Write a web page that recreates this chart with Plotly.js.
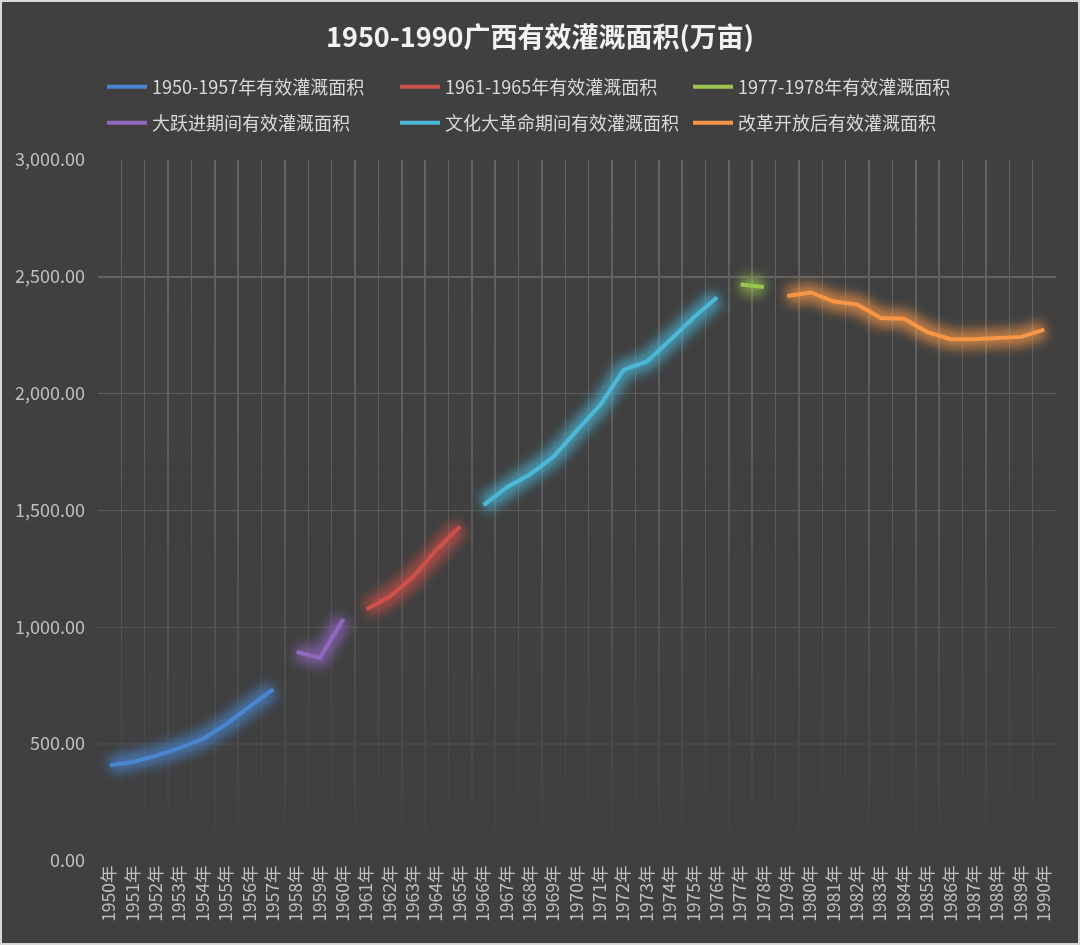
<!DOCTYPE html>
<html>
<head>
<meta charset="utf-8">
<script src="https://cdn.plot.ly/plotly-3.0.1.min.js"></script>
<style>
  html, body { margin: 0; padding: 0; background: #d9d9d9; }
  #chart { position: absolute; left: 2px; top: 2px; width: 1076px; height: 941px; }
</style>
</head>
<body>
<div id="chart"></div>
<script>
const years = [
  '1950年', '1951年', '1952年', '1953年', '1954年', '1955年', '1956年', '1957年',
  '1958年', '1959年', '1960年', '1961年', '1962年', '1963年', '1964年', '1965年',
  '1966年', '1967年', '1968年', '1969年', '1970年', '1971年', '1972年', '1973年',
  '1974年', '1975年', '1976年', '1977年', '1978年', '1979年', '1980年', '1981年',
  '1982年', '1983年', '1984年', '1985年', '1986年', '1987年', '1988年', '1989年',
  '1990年'
];

// 万亩
const early = [410, 424, 451, 484, 523, 586, 662, 735];            // 1950-1957
const adjust = [1077, 1133, 1217, 1334, 1431];                      // 1961-1965
const transition = [2467, 2456];                                    // 1977-1978
const greatLeap = [895, 869, 1036];                                 // 1958-1960
const cultRev = [1523, 1600, 1655, 1731, 1843, 1952, 2102, 2138, 2231, 2327, 2413]; // 1966-1976
const reform = [2418, 2433, 2394, 2381, 2324, 2321, 2263, 2233, 2233, 2236, 2243, 2274]; // 1979-1990

function span(from, to) {
  return years.slice(years.indexOf(from), years.indexOf(to) + 1);
}

const series = [
  {name: '1950-1957年有效灌溉面积', x: span('1950年', '1957年'), y: early, color: '#4a86d0', legend: 'legend'},
  {name: '1961-1965年有效灌溉面积', x: span('1961年', '1965年'), y: adjust, color: '#d0504a', legend: 'legend'},
  {name: '1977-1978年有效灌溉面积', x: span('1977年', '1978年'), y: transition, color: '#9bc550', legend: 'legend'},
  {name: '大跃进期间有效灌溉面积', x: span('1958年', '1960年'), y: greatLeap, color: '#9068c0', legend: 'legend2'},
  {name: '文化大革命期间有效灌溉面积', x: span('1966年', '1976年'), y: cultRev, color: '#4bb8d8', legend: 'legend2'},
  {name: '改革开放后有效灌溉面积', x: span('1979年', '1990年'), y: reform, color: '#f79646', legend: 'legend2'}
];

// soft halo under each line, blurred after drawing
const glow = series.map(s => ({
  x: s.x, y: s.y, type: 'scatter', mode: 'lines',
  line: {color: s.color, width: 18},
  opacity: 0.7, showlegend: false, hoverinfo: 'skip'
}));

const lines = series.map(s => ({
  x: s.x, y: s.y, name: s.name, type: 'scatter', mode: 'lines',
  line: {color: s.color, width: 4},
  legend: s.legend
}));

const FONT = '"Noto Sans CJK SC", "Noto Sans", sans-serif';

const legendBase = {
  orientation: 'h',
  xref: 'container', yref: 'container',
  x: 100 / 1076, xanchor: 'left', yanchor: 'middle',
  bgcolor: 'rgba(0,0,0,0)',
  font: {family: FONT, size: 18, color: '#d9d9d9'},
  entrywidth: 238,
  itemwidth: 40
};

const layout = {
  width: 1076,
  height: 941,
  paper_bgcolor: '#404040',
  plot_bgcolor: '#404040',
  font: {family: FONT, color: '#bfbfbf'},
  margin: {l: 96, r: 22, t: 158, b: 82},
  title: {
    text: '<b>1950-1990广西有效灌溉面积(万亩)</b>',
    x: 0.5, xanchor: 'center',
    y: 1 - 36 / 941, yanchor: 'middle',
    font: {family: FONT, size: 27, color: '#f2f2f2'}
  },
  legend: Object.assign({}, legendBase, {y: 1 - 85 / 941}),
  legend2: Object.assign({}, legendBase, {y: 1 - 121 / 941}),
  xaxis: {
    type: 'category',
    categoryorder: 'array',
    categoryarray: years,
    tickson: 'boundaries',
    ticks: '',
    showgrid: true,
    gridcolor: '#646464',
    gridwidth: 1.5,
    showline: false,
    zeroline: false,
    tickangle: -90,
    tickfont: {family: FONT, size: 17.5, color: '#bfbfbf'},
    range: [-0.5, years.length - 0.5]
  },
  yaxis: {
    range: [0, 3000],
    dtick: 500,
    tick0: 0,
    tickformat: ',.2f',
    showgrid: true,
    gridcolor: '#646464',
    gridwidth: 1.5,
    zeroline: false,
    showline: false,
    ticks: '',
    ticklabelstandoff: 12,
    tickfont: {family: FONT, size: 18, color: '#bfbfbf'}
  },
  showlegend: true
};

function addEffects(gd) {
  const ns = 'http://www.w3.org/2000/svg';
  const svg = gd.querySelector('svg.main-svg');
  if (!document.getElementById('gridFade')) {
    const defs = document.createElementNS(ns, 'defs');
    defs.innerHTML =
      '<linearGradient id="fadeGrad" x1="0" y1="0" x2="0" y2="1">' +
      '<stop offset="0" stop-color="#fff" stop-opacity="1"/>' +
      '<stop offset="0.45" stop-color="#fff" stop-opacity="0.8"/>' +
      '<stop offset="1" stop-color="#fff" stop-opacity="0.02"/>' +
      '</linearGradient>' +
      '<mask id="gridFade" maskContentUnits="objectBoundingBox">' +
      '<rect x="0" y="0" width="1" height="1" fill="url(#fadeGrad)"/>' +
      '</mask>' +
      '<filter id="glow" filterUnits="userSpaceOnUse" x="0" y="0" width="1076" height="941">' +
      '<feGaussianBlur stdDeviation="6"/>' +
      '</filter>';
    svg.insertBefore(defs, svg.firstChild);
  }
  gd.querySelectorAll('.gridlayer').forEach(g => g.setAttribute('mask', 'url(#gridFade)'));
  const traces = gd.querySelectorAll('.scatterlayer .trace');
  for (let i = 0; i < glow.length && i < traces.length; i++) {
    traces[i].setAttribute('filter', 'url(#glow)');
  }
}

const gd = document.getElementById('chart');
Plotly.newPlot(gd, glow.concat(lines), layout, {displayModeBar: false, staticPlot: true})
  .then(() => {
    addEffects(gd);
    gd.on('plotly_afterplot', () => addEffects(gd));
  });
</script>
</body>
</html>
